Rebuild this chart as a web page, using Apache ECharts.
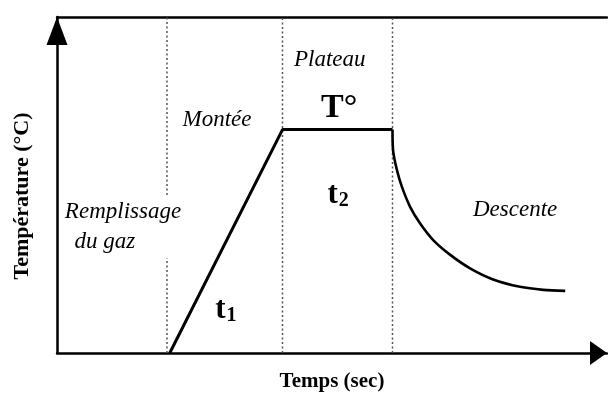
<!DOCTYPE html>
<html>
<head>
<meta charset="utf-8">
<script src="https://cdn.jsdelivr.net/npm/echarts@6/dist/echarts.min.js"></script>
<style>
  html, body { margin: 0; padding: 0; background: #fff; }
  #chart { width: 608px; height: 394px; }
</style>
</head>
<body>
<div id="chart"></div>
<script>
// time (arbitrary units, 0-100) and temperature (arbitrary units, 0-100)
const phaseBounds = [20, 41, 61];          // dotted separators between phases
const firstBoundGap = [28.3, 47];          // separator 1 is broken around the label
const rampPlateau = [[20.5, 0], [41, 66.5], [61, 66.5]];
const descentX = [61, 61.1, 61.8, 62.7, 64.2, 66.0, 68.4, 71.5, 75.1, 79.3, 84.2, 88.4, 92.4];
const descentY = [66.5, 60.4, 54.5, 49.5, 43.5, 38.6, 33.6, 29.2, 25.2, 21.9, 19.7, 18.8, 18.5];

const phaseNames = ['Plateau', 'Montée', 'Remplissage', 'du gaz', 'Descente'];
const phaseNameX = [49.6, 29.1, 12.0, 8.7, 83.3];
const phaseNameY = [87.2, 69.3, 42.0, 33.0, 42.6];

const symbols = ['T°', '{b|t}{s|1}', '{b|t}{s|2}'];
const symbolX = [51.3, 30.7, 51.1];
const symbolY = [72.9, 12.8, 47.0];

const serif = "'Liberation Serif', 'Times New Roman', serif";
const ink = '#000';

const chart = echarts.init(document.getElementById('chart'));

// dotted phase separators; '-' breaks the first one
const separators = phaseBounds.map((x, i) => {
  const data = i === 0
    ? [[x, 0], [x, firstBoundGap[0]], [x, '-'], [x, firstBoundGap[1]], [x, 100]]
    : [[x, 0], [x, 100]];
  return {
    type: 'line',
    data,
    symbol: 'none',
    silent: true,
    connectNulls: false,
    lineStyle: { color: '#555', width: 1.5, type: [2, 2.5] },
    z: 1
  };
});

const option = {
  animation: false,
  backgroundColor: '#fff',
  grid: { left: 57, right: 1, top: 17, bottom: 41, containLabel: false, outerBoundsMode: 'none' },
  xAxis: [
    {
      type: 'value',
      min: 0,
      max: 100,
      name: 'Temps (sec)',
      nameLocation: 'middle',
      nameGap: 18,
      nameTextStyle: { fontFamily: serif, fontWeight: 'bold', fontSize: 21, color: ink },
      axisLine: {
        onZero: false,
        symbol: ['none', 'triangle'],
        symbolSize: [24, 17],
        symbolOffset: [0, -8.5],
        lineStyle: { color: ink, width: 2.5 }
      },
      axisTick: { show: false },
      axisLabel: { show: false },
      splitLine: { show: false }
    },
    {
      type: 'value',
      position: 'top',
      min: 0,
      max: 100,
      axisLine: { show: true, onZero: false, lineStyle: { color: ink, width: 2.5 } },
      axisTick: { show: false },
      axisLabel: { show: false },
      splitLine: { show: false }
    }
  ],
  yAxis: {
    type: 'value',
    min: 0,
    max: 100,
    name: 'Température (°C)',
    nameLocation: 'middle',
    nameGap: 24,
    nameTextStyle: { fontFamily: serif, fontWeight: 'bold', fontSize: 22, color: ink, padding: [0, 22, 0, 0] },
    axisLine: {
      show: true,
      onZero: false,
      symbol: ['none', 'triangle'],
      symbolSize: [21, 28],
      symbolOffset: [0, -14],
      lineStyle: { color: ink, width: 2.5 }
    },
    axisTick: { show: false },
    axisLabel: { show: false },
    splitLine: { show: false }
  },
  series: [
    ...separators,
    {
      name: 'montée + plateau',
      type: 'line',
      data: rampPlateau,
      symbol: 'none',
      lineStyle: { color: ink, width: 3 },
      z: 3
    },
    {
      name: 'descente',
      type: 'line',
      data: descentX.map((x, i) => [x, descentY[i]]),
      smooth: 0.3,
      symbol: 'none',
      lineStyle: { color: ink, width: 2.6 },
      z: 3
    },
    {
      name: 'phases',
      type: 'scatter',
      symbolSize: 0,
      silent: true,
      itemStyle: { opacity: 1 },
      data: phaseNames.map((n, i) => ({ name: n, value: [phaseNameX[i], phaseNameY[i]] })),
      label: {
        show: true,
        position: 'inside',
        formatter: p => p.name,
        fontFamily: serif,
        fontStyle: 'italic',
        fontSize: 23,
        color: ink,
        opacity: 1
      },
      z: 4
    },
    {
      name: 'symboles',
      type: 'scatter',
      symbolSize: 0,
      silent: true,
      itemStyle: { opacity: 1 },
      data: symbols.map((n, i) => ({ name: n, value: [symbolX[i], symbolY[i]] })),
      label: {
        show: true,
        position: 'inside',
        formatter: p => p.name,
        fontFamily: serif,
        fontWeight: 'bold',
        fontSize: 34,
        color: ink,
        opacity: 1,
        rich: {
          b: { fontFamily: serif, fontWeight: 'bold', fontSize: 31, color: ink },
          s: { fontFamily: serif, fontWeight: 'bold', fontSize: 20, color: ink, padding: [12, 0, 0, 1] }
        }
      },
      z: 4
    }
  ]
};

chart.setOption(option);
window.addEventListener('resize', () => chart.resize());
</script>
</body>
</html>
